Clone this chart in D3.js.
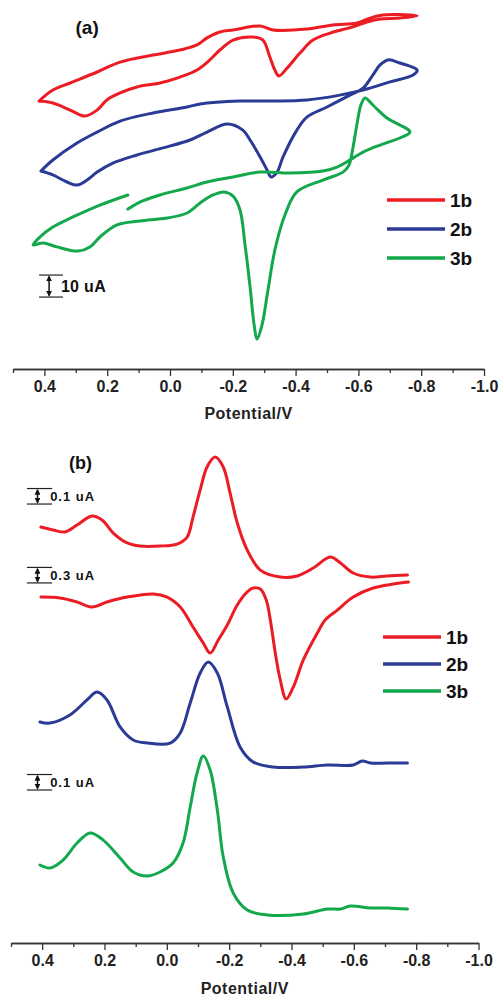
<!DOCTYPE html>
<html>
<head>
<meta charset="utf-8">
<script src="https://cdn.jsdelivr.net/npm/d3@7"></script>
<style>
  body { margin: 0; background: #fff; }
  svg { display: block; font-family: Arial, "Liberation Sans", sans-serif; }
  .tick text { font-weight: bold; }
</style>
</head>
<body>
<svg id="chart" width="500" height="1000"></svg>
<script>
// x axis ticks (V)
const majorTicks = [0.4, 0.2, 0.0, -0.2, -0.4, -0.6, -0.8, -1.0];
const minorTicks = [0.5, 0.3, 0.1, -0.1, -0.3, -0.5, -0.7, -0.9];
const seriesNames = ["1b", "2b", "3b"];

// (a) cyclic voltammograms: [potential V, current uA + offset]
const cv1b = [
  [0.417, 121.8], [0.373, 120.9], [0.318, 117.7], [0.271, 115.0], [0.232, 117.7],
  [0.201, 122.3], [0.159, 125.5], [0.105, 128.2], [0.032, 130.0], [-0.032, 132.7],
  [-0.086, 135.9], [-0.127, 140.5], [-0.159, 145.0], [-0.201, 149.5], [-0.264, 150.9],
  [-0.296, 149.5], [-0.318, 141.8], [-0.334, 135.9], [-0.347, 133.2], [-0.373, 136.8],
  [-0.414, 143.6], [-0.455, 149.5], [-0.510, 152.7], [-0.583, 155.5], [-0.627, 157.7],
  [-0.669, 159.1], [-0.732, 159.5], [-0.787, 160.5], [-0.732, 161.1], [-0.678, 160.9],
  [-0.637, 159.5], [-0.596, 157.3], [-0.519, 156.4], [-0.436, 154.5], [-0.328, 154.1],
  [-0.287, 155.9], [-0.201, 154.1], [-0.159, 153.2], [-0.118, 150.5], [-0.086, 147.3],
  [-0.032, 145.0], [0.054, 142.7], [0.159, 139.5], [0.232, 135.0], [0.318, 130.0],
  [0.373, 126.8], [0.417, 121.8]
];
const cv2b = [
  [0.411, 90.0], [0.373, 88.2], [0.328, 85.0], [0.296, 83.6], [0.264, 85.9],
  [0.232, 89.5], [0.182, 93.6], [0.105, 97.3], [0.022, 100.5], [-0.064, 104.1],
  [-0.118, 107.7], [-0.182, 111.4], [-0.232, 108.6], [-0.255, 104.1], [-0.287, 96.4],
  [-0.309, 90.5], [-0.322, 87.3], [-0.341, 89.5], [-0.360, 96.4], [-0.404, 108.6],
  [-0.436, 114.5], [-0.500, 119.1], [-0.573, 124.5], [-0.615, 127.7], [-0.646, 133.6],
  [-0.669, 138.2], [-0.694, 140.5], [-0.732, 139.1], [-0.787, 135.9], [-0.774, 133.6],
  [-0.701, 130.5], [-0.627, 127.3], [-0.541, 124.5], [-0.436, 122.3], [-0.328, 121.8],
  [-0.223, 121.8], [-0.096, 120.5], [-0.054, 119.1], [0.054, 116.4], [0.159, 112.7],
  [0.232, 107.7], [0.296, 102.7], [0.373, 95.0], [0.411, 90.0]
];
const cv3b = [
  [0.134, 79.1], [0.223, 74.5], [0.309, 69.1], [0.373, 64.5], [0.414, 60.0],
  [0.436, 56.4], [0.404, 57.3], [0.360, 55.5], [0.293, 53.6], [0.255, 55.5],
  [0.223, 60.0], [0.169, 65.5], [0.096, 67.3], [0.010, 68.6], [-0.054, 70.9],
  [-0.096, 75.5], [-0.137, 79.1], [-0.172, 80.5], [-0.201, 78.6], [-0.223, 72.3],
  [-0.239, 56.4], [-0.255, 37.3], [-0.268, 20.0], [-0.277, 13.6], [-0.293, 20.0],
  [-0.312, 35.9], [-0.334, 54.1], [-0.366, 70.0], [-0.404, 80.5], [-0.487, 85.9],
  [-0.551, 89.5], [-0.570, 92.7], [-0.583, 100.9], [-0.596, 111.8], [-0.608, 120.0],
  [-0.621, 123.2], [-0.646, 120.0], [-0.691, 114.1], [-0.764, 107.7], [-0.732, 105.0],
  [-0.669, 101.8], [-0.615, 98.6], [-0.573, 95.0], [-0.532, 91.8], [-0.487, 90.0],
  [-0.382, 89.1], [-0.287, 89.5], [-0.201, 87.3], [-0.118, 85.0], [-0.054, 82.3],
  [0.032, 79.1], [0.096, 75.9], [0.134, 72.7]
];

// (b) differential pulse voltammograms: [potential V, current (offset)]
const dpv1bOx = [
  [0.404, 2.684], [0.365, 2.665], [0.327, 2.652], [0.288, 2.697], [0.240, 2.755],
  [0.208, 2.729], [0.172, 2.645], [0.127, 2.581], [0.086, 2.561], [0.022, 2.561],
  [-0.033, 2.574], [-0.065, 2.619], [-0.084, 2.748], [-0.107, 2.923], [-0.129, 3.071],
  [-0.155, 3.135], [-0.181, 3.071], [-0.203, 2.903], [-0.226, 2.710], [-0.258, 2.535],
  [-0.300, 2.406], [-0.364, 2.361], [-0.418, 2.368], [-0.470, 2.419], [-0.524, 2.490],
  [-0.557, 2.452], [-0.598, 2.387], [-0.653, 2.361], [-0.707, 2.368], [-0.772, 2.374]
];
const dpv1bRed = [
  [0.404, 2.232], [0.343, 2.226], [0.288, 2.200], [0.240, 2.168], [0.192, 2.200],
  [0.127, 2.232], [0.044, 2.252], [-0.001, 2.232], [-0.043, 2.168], [-0.084, 2.039],
  [-0.117, 1.935], [-0.139, 1.871], [-0.165, 1.955], [-0.194, 2.052], [-0.226, 2.181],
  [-0.258, 2.265], [-0.277, 2.290], [-0.300, 2.284], [-0.319, 2.213], [-0.332, 2.084],
  [-0.348, 1.871], [-0.364, 1.697], [-0.383, 1.574], [-0.406, 1.652], [-0.438, 1.826],
  [-0.483, 2.000], [-0.508, 2.084], [-0.547, 2.148], [-0.598, 2.232], [-0.662, 2.290],
  [-0.727, 2.316], [-0.775, 2.329]
];
const dpv2b = [
  [0.407, 1.426], [0.375, 1.419], [0.311, 1.471], [0.256, 1.568], [0.224, 1.619],
  [0.192, 1.568], [0.150, 1.394], [0.108, 1.310], [0.063, 1.290], [-0.011, 1.290],
  [-0.043, 1.355], [-0.075, 1.548], [-0.107, 1.742], [-0.133, 1.813], [-0.162, 1.742],
  [-0.194, 1.523], [-0.235, 1.265], [-0.277, 1.168], [-0.341, 1.135], [-0.438, 1.135],
  [-0.515, 1.148], [-0.598, 1.148], [-0.627, 1.174], [-0.653, 1.161], [-0.707, 1.161],
  [-0.772, 1.161]
];
const dpv3b = [
  [0.407, 0.503], [0.375, 0.484], [0.333, 0.535], [0.288, 0.645], [0.246, 0.710],
  [0.205, 0.665], [0.150, 0.548], [0.108, 0.458], [0.063, 0.432], [0.022, 0.458],
  [-0.020, 0.516], [-0.052, 0.645], [-0.075, 0.877], [-0.097, 1.097], [-0.117, 1.206],
  [-0.139, 1.116], [-0.162, 0.858], [-0.181, 0.555], [-0.213, 0.323], [-0.258, 0.213],
  [-0.322, 0.181], [-0.438, 0.187], [-0.515, 0.219], [-0.557, 0.219], [-0.589, 0.239],
  [-0.653, 0.226], [-0.707, 0.226], [-0.772, 0.219]
];

// scale bars: [x from V, x to V, low current, span, label]
const scaleBarsA = [[0.417, 0.341, 32.7, 10, "10 uA"]];
const scaleBarsB = [
  [0.449, 0.368, 2.832, 0.1, "0.1 uA"],
  [0.449, 0.368, 2.323, 0.1, "0.3 uA"],
  [0.449, 0.368, 0.987, 0.1, "0.1 uA"]
];

const colors = { "1b": "#ec1c24", "2b": "#2b3a95", "3b": "#12a84b" };
const axisColor = "#333";

const svg = d3.select("#chart");

svg.append("defs").append("marker")
  .attr("id", "arrow")
  .attr("viewBox", "0 0 10 10")
  .attr("refX", 8).attr("refY", 5)
  .attr("markerWidth", 4).attr("markerHeight", 4)
  .attr("orient", "auto-start-reverse")
  .append("path")
  .attr("d", "M0,0 L10,5 L0,10 z")
  .attr("fill", "#111");

function drawPanel(cfg) {
  const x = d3.scaleLinear().domain([0.5, -1.0]).range(cfg.xRange);
  const y = d3.scaleLinear().domain(cfg.yDomain).range(cfg.yRange);
  const g = svg.append("g");

  const line = d3.line()
    .x((d) => x(d[0]))
    .y((d) => y(d[1]))
    .curve(d3.curveCatmullRom.alpha(0.5));

  cfg.curves.forEach(([name, data]) => {
    g.append("path")
      .attr("d", line(data))
      .attr("fill", "none")
      .attr("stroke", colors[name])
      .attr("stroke-width", 3)
      .attr("stroke-linejoin", "round")
      .attr("stroke-linecap", "round");
  });

  // x axis
  const axisY = y(0);
  const minorAxis = g.append("g")
    .attr("transform", `translate(0,${axisY})`)
    .call(d3.axisBottom(x).tickValues(minorTicks).tickSize(4).tickFormat("").tickSizeOuter(0));
  const majorAxis = g.append("g")
    .attr("transform", `translate(0,${axisY})`)
    .call(d3.axisBottom(x).tickValues(majorTicks).tickSize(7).tickSizeOuter(0)
      .tickFormat(d3.format(".1f")).tickPadding(5));
  [minorAxis, majorAxis].forEach((a) => {
    a.select(".domain").attr("stroke", axisColor).attr("stroke-width", 1.5);
    a.selectAll(".tick line").attr("stroke", axisColor).attr("stroke-width", 1.3);
  });
  majorAxis.selectAll(".tick text")
    .attr("fill", "#222")
    .style("font-size", "16px")
    .text((d) => d3.format(".1f")(d).replace("−", "-"));

  g.append("text")
    .attr("x", (cfg.xRange[0] + cfg.xRange[1]) / 2)
    .attr("y", axisY + cfg.titleOffset)
    .attr("text-anchor", "middle")
    .attr("font-weight", "bold")
    .attr("font-size", 16)
    .attr("letter-spacing", 0.5)
    .attr("fill", "#222")
    .text("Potential/V");

  // panel label
  g.append("text")
    .attr("x", x(cfg.label[0]))
    .attr("y", y(cfg.label[1]))
    .attr("text-anchor", "middle")
    .attr("font-weight", "bold")
    .attr("font-size", cfg.labelFont)
    .attr("fill", "#111")
    .text(cfg.label[2]);

  // scale bars
  cfg.bars.forEach(([x0, x1, low, span, label]) => {
    const yb = y(low), yt = y(low + span);
    const xm = x(x0) + (x(x1) - x(x0)) * 0.42;
    [yb, yt].forEach((yy) => {
      g.append("line")
        .attr("x1", x(x0)).attr("x2", x(x1))
        .attr("y1", yy).attr("y2", yy)
        .attr("stroke", "#222").attr("stroke-width", 1.2);
    });
    g.append("line")
      .attr("x1", xm).attr("x2", xm)
      .attr("y1", yb - 1.5).attr("y2", yt + 1.5)
      .attr("stroke", "#111").attr("stroke-width", 1.5)
      .attr("marker-start", "url(#arrow)")
      .attr("marker-end", "url(#arrow)");
    g.append("text")
      .attr("x", x(x1) - 2)
      .attr("y", (yb + yt) / 2)
      .attr("dy", "0.36em")
      .attr("font-weight", "bold")
      .attr("font-size", cfg.barFont)
      .attr("letter-spacing", cfg.barSpacing)
      .attr("fill", "#111")
      .text(label);
  });

  // legend
  const lg = g.append("g");
  seriesNames.forEach((name, i) => {
    const ly = cfg.legend.y0 + i * cfg.legend.step;
    lg.append("line")
      .attr("x1", cfg.legend.x0).attr("x2", cfg.legend.x0 + 58)
      .attr("y1", ly).attr("y2", ly)
      .attr("stroke", colors[name]).attr("stroke-width", 3.5);
    lg.append("text")
      .attr("x", cfg.legend.x0 + 63)
      .attr("y", ly)
      .attr("dy", "0.36em")
      .attr("font-weight", "bold")
      .attr("font-size", 19)
      .attr("fill", "#111")
      .text(name);
  });
}

drawPanel({
  xRange: [13, 484],
  yDomain: [0, 160],
  yRange: [369, 17],
  curves: [["1b", cv1b], ["2b", cv2b], ["3b", cv3b]],
  label: [0.264, 152.5, "(a)"],
  labelFont: 19,
  bars: scaleBarsA,
  barFont: 16,
  barSpacing: 0.3,
  titleOffset: 50,
  legend: { x0: 387, y0: 200, step: 29 }
});

drawPanel({
  xRange: [11, 478.5],
  yDomain: [0, 3.2],
  yRange: [943, 447],
  curves: [["1b", dpv1bOx], ["1b", dpv1bRed], ["2b", dpv2b], ["3b", dpv3b]],
  label: [0.277, 3.055, "(b)"],
  labelFont: 18,
  bars: scaleBarsB,
  barFont: 13,
  barSpacing: 1,
  titleOffset: 51,
  legend: { x0: 383, y0: 637, step: 27 }
});
</script>
</body>
</html>
